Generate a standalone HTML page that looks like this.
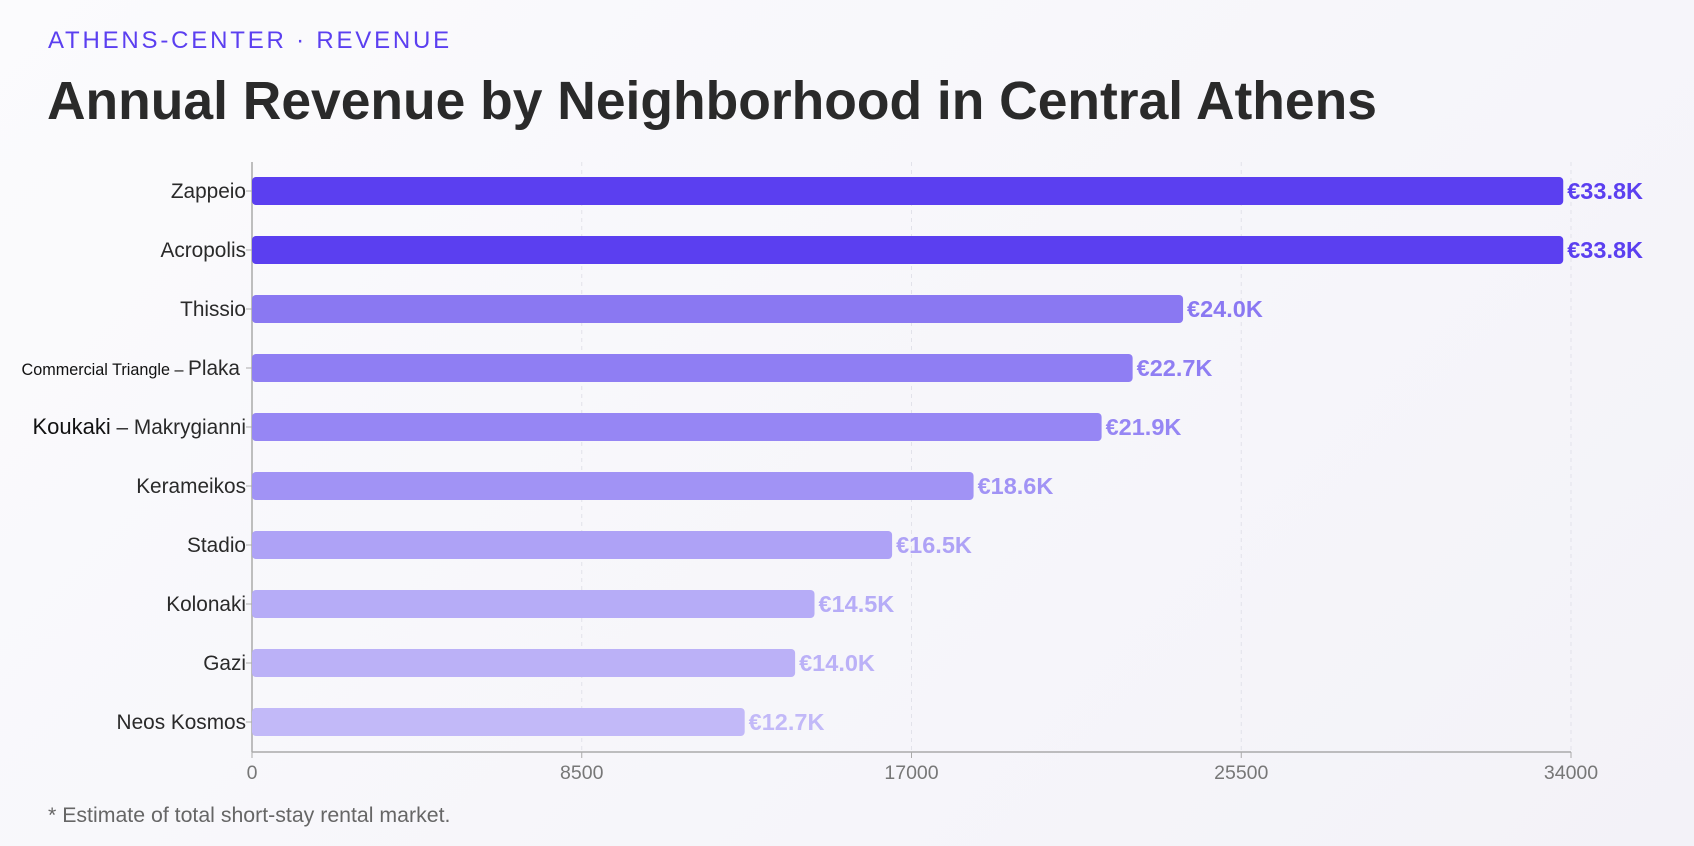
<!DOCTYPE html>
<html><head><meta charset="utf-8"><style>
html,body{margin:0;padding:0;}
body{width:1694px;height:846px;background:linear-gradient(135deg,#fbfbfd,#f3f2f8);font-family:"Liberation Sans",sans-serif;position:relative;overflow:hidden;}
.sub{position:absolute;left:48px;top:27px;font-size:24px;letter-spacing:2.8px;color:#5b3ff0;}
h1{position:absolute;left:47px;top:71px;margin:0;font-size:53.4px;font-weight:bold;color:#2a2a2a;}
.foot{position:absolute;left:48px;top:803px;font-size:21.3px;color:#666;}
svg{position:absolute;left:0;top:0;}
</style></head><body>
<div class="sub">ATHENS-CENTER · REVENUE</div>
<h1>Annual Revenue by Neighborhood in Central Athens</h1>
<div class="foot">* Estimate of total short-stay rental market.</div>
<svg id="chart" width="1694" height="846"></svg>
<script>
const categories=["Zappeio","Acropolis","Thissio","Commercial Triangle – Plaka","Koukaki – Makrygianni","Kerameikos","Stadio","Kolonaki","Gazi","Neos Kosmos"];
const values=[33800,33800,24000,22700,21900,18600,16500,14500,14000,12700];
const valueLabels=["€33.8K","€33.8K","€24.0K","€22.7K","€21.9K","€18.6K","€16.5K","€14.5K","€14.0K","€12.7K"];
const ticks=[0,8500,17000,25500,34000];
const colors=["#5b3ff0","#5b3ff0","#8a78f2","#8f7ef3","#9686f4","#a193f5","#aea2f6","#b6acf7","#bbb1f7","#c2b9f8"];
const NS="http://www.w3.org/2000/svg";
const svg=document.getElementById('chart');
const x0=252,x1=1571,yTop=162,yAxis=752,y0=191,step=59,bh=28;
const xs=v=>x0+(v/34000)*(x1-x0);
const ys=i=>y0+i*step;
function mk(t,a,p){const e=document.createElementNS(NS,t);for(const k in a)e.setAttribute(k,a[k]);(p||svg).appendChild(e);return e;}
ticks.forEach(t=>{
 if(t>0){const g=mk('line',{x1:xs(t),x2:xs(t),y1:yTop,y2:yAxis,stroke:'#e2e2ea','stroke-dasharray':'4,4'});
 
 }
 mk('line',{x1:xs(t),x2:xs(t),y1:yAxis,y2:yAxis+6,stroke:'#aaa'});
 const tx=mk('text',{x:xs(t),y:yAxis+27,'text-anchor':'middle','font-size':19.5,fill:'#777'});
 tx.textContent=t;
 
 
});
mk('line',{x1:x0,x2:x0,y1:yTop,y2:yAxis,stroke:'#aaa','stroke-width':1.5});
mk('line',{x1:x0,x2:x1,y1:yAxis,y2:yAxis,stroke:'#aaa','stroke-width':1.5});
categories.forEach((c,i)=>{
 const y=ys(i);
 const r=mk('rect',{x:x0,y:y-bh/2,width:xs(values[i])-x0,height:bh,rx:4,fill:colors[i]});
 
 
 mk('line',{x1:x0-6,x2:x0,y1:y,y2:y,stroke:'#aaa'});
 const l=mk('text',{x:c.indexOf('Commercial')===0?x0-12:x0-6,y:y+7,'text-anchor':'end','font-size':20.8,fill:'#2a2a2a'});
 if(c.indexOf('Commercial')===0){
  const a=mk('tspan',{'font-size':16.2,fill:'#111'},l);a.textContent='Commercial Triangle – ';
  const b=mk('tspan',{},l);b.textContent='Plaka';
 } else if(c.indexOf('Koukaki')===0){
  const a=mk('tspan',{'font-size':22,fill:'#111'},l);a.textContent='Koukaki';
  const b=mk('tspan',{},l);b.textContent=' – Makrygianni';
 } else l.textContent=c;
 
 
 const v=mk('text',{x:xs(values[i])+4,y:y+8,'font-size':23.5,'font-weight':'bold',fill:colors[i]});
 v.textContent=valueLabels[i];
 
 
});
</script>
</body></html>
